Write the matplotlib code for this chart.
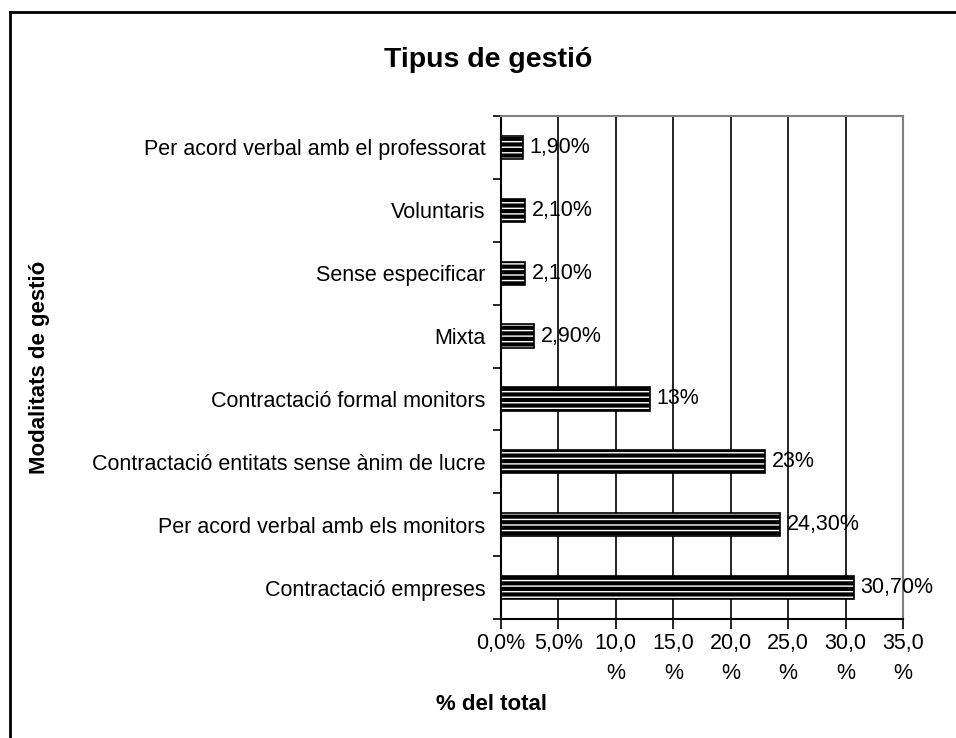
import matplotlib.pyplot as plt
from matplotlib.lines import Line2D
import numpy as np

plt.rcParams['font.family'] = ['Liberation Sans', 'DejaVu Sans']

# data, top to bottom as shown
categories = [
    'Per acord verbal amb el professorat',
    'Voluntaris',
    'Sense especificar',
    'Mixta',
    'Contractació formal monitors',
    'Contractació entitats sense ànim de lucre',
    'Per acord verbal amb els monitors',
    'Contractació empreses',
]
values = [1.9, 2.1, 2.1, 2.9, 13, 23, 24.3, 30.7]
value_labels = ['1,90%', '2,10%', '2,10%', '2,90%', '13%', '23%', '24,30%', '30,70%']
x_ticks = [0, 5, 10, 15, 20, 25, 30, 35]
x_tick_labels = ['0,0%', '5,0%', '10,0\n%', '15,0\n%', '20,0\n%', '25,0\n%', '30,0\n%', '35,0\n%']

W, H = 956, 738
fig = plt.figure(figsize=(W / 100, H / 100), dpi=100)
ax = fig.add_axes([501 / W, 1 - 619 / H, (903 - 501) / W, (619 - 116) / H])

y = np.arange(len(categories))
bar_h = 0.37
# black bars with white dash pattern, then black outline
ax.barh(y, values, height=bar_h, color='black', edgecolor='white', hatch='---', linewidth=0, zorder=3)
ax.barh(y, values, height=bar_h, fill=False, edgecolor='black', linewidth=1.2, zorder=4)

for yi, v, lab in zip(y, values, value_labels):
    ax.text(v + 0.55, yi, lab, va='center', ha='left', fontsize=15.5, zorder=5)

ax.set_xlim(0, 35)
ax.set_ylim(len(categories) - 0.5, -0.5)

ax.set_xticks(x_ticks)
ax.set_xticklabels(x_tick_labels, fontsize=15.5, linespacing=1.6, va='top')
ax.tick_params(axis='x', direction='out', length=7, width=1.2, pad=3)

# tick marks at category boundaries, labels centered
ax.set_yticks(np.arange(len(categories) + 1) - 0.5)
ax.set_yticklabels([])
ax.set_yticks(y, minor=True)
ax.set_yticklabels(categories, minor=True, fontsize=15.5)
ax.tick_params(axis='y', which='major', direction='out', length=6, width=1.2)
ax.tick_params(axis='y', which='minor', length=0, pad=11)

ax.grid(axis='x', color='black', linewidth=1.2, zorder=0)
ax.set_axisbelow(True)
for side in ['top', 'right']:
    ax.spines[side].set_color('#808080')
    ax.spines[side].set_linewidth(1.5)
for side in ['left', 'bottom']:
    ax.spines[side].set_color('black')
    ax.spines[side].set_linewidth(1.5)

fig.text(488 / W, 1 - 60 / H, 'Tipus de gestió', ha='center', va='center',
         fontsize=20.5, fontweight='bold')
fig.text(492 / W, 1 - 705 / H, '% del total', ha='center', va='center',
         fontsize=16, fontweight='bold')
fig.text(40 / W, 1 - 367 / H, 'Modalitats de gestió', ha='center', va='center',
         rotation=90, fontsize=16, fontweight='bold')

# outer frame (only left and top edges visible)
fig.add_artist(Line2D([10 / W, 10 / W], [0, 1 - 12 / H], color='black', linewidth=2))
fig.add_artist(Line2D([10 / W, 1], [1 - 12 / H, 1 - 12 / H], color='black', linewidth=2))

fig.savefig('out.png', dpi=100)
